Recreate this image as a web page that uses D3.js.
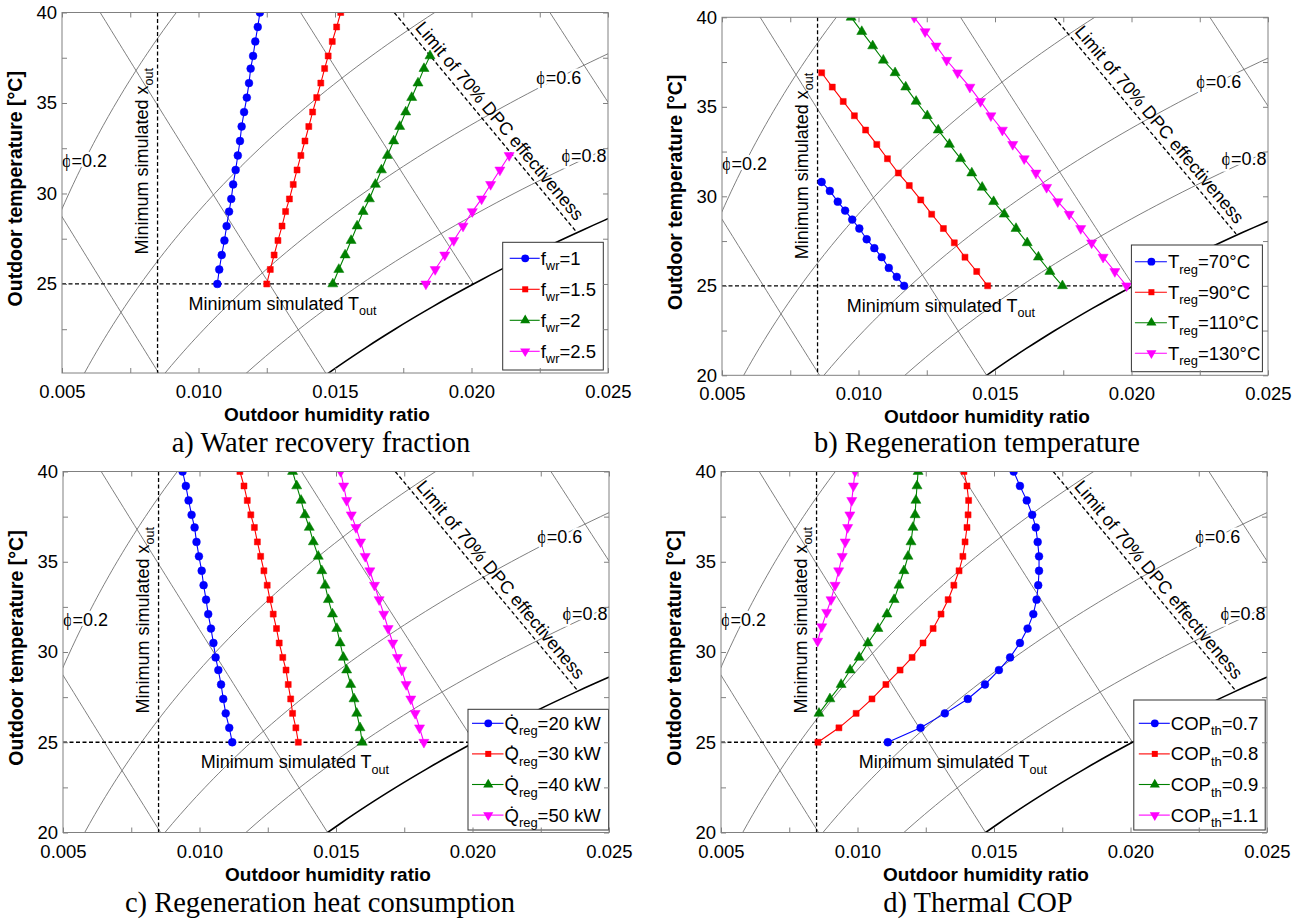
<!DOCTYPE html>
<html>
<head>
<meta charset="utf-8">
<script src="https://cdn.jsdelivr.net/npm/d3@7"></script>
<style>
  body { margin: 0; background: #fff; }
  svg text { font-family: "Liberation Sans", Arial, sans-serif; fill: #000; }
</style>
</head>
<body>
<script>
// ---- data ----
// temperature grid shared by most series (deg C)
var tGrid = [25.0, 25.8, 26.6, 27.4, 28.2, 29.0, 29.7, 30.5, 31.3, 32.1, 32.9, 33.7, 34.5, 35.3, 36.1, 36.9, 37.6, 38.4, 39.2, 40.0];

// a) water recovery fraction
var aX10 = [0.01069, 0.01076, 0.01085, 0.01095, 0.01103, 0.01112, 0.01120, 0.01127, 0.01136, 0.01144, 0.01152, 0.01158, 0.01167, 0.01177, 0.01185, 0.01191, 0.01200, 0.01208, 0.01217, 0.01225];
var aX15 = [0.01250, 0.01263, 0.01277, 0.01291, 0.01306, 0.01319, 0.01333, 0.01347, 0.01361, 0.01375, 0.01390, 0.01404, 0.01418, 0.01433, 0.01448, 0.01462, 0.01475, 0.01490, 0.01506, 0.01521];
var aX20 = [0.01492, 0.01514, 0.01537, 0.01559, 0.01581, 0.01603, 0.01626, 0.01648, 0.01670, 0.01692, 0.01715, 0.01737, 0.01759, 0.01781, 0.01804, 0.01826, 0.01848];
var aT20 = tGrid.slice(0, 17);
var aX25 = [0.01833, 0.01867, 0.01902, 0.01935, 0.01969, 0.02003, 0.02037, 0.02070, 0.02104, 0.02138];
var aT25 = tGrid.slice(0, 10);

// b) regeneration temperature
var bT70 = [25.0, 25.5, 26.0, 26.6, 27.1, 27.6, 28.2, 28.7, 29.2, 29.7, 30.3, 30.8];
var bX70 = [0.01167, 0.01140, 0.01111, 0.01085, 0.01058, 0.01030, 0.01003, 0.00977, 0.00951, 0.00924, 0.00895, 0.00865];
var bT90 = [25.0, 25.8, 26.6, 27.4, 28.2, 29.0, 29.8, 30.6, 31.3, 32.1, 32.9, 33.7, 34.5, 35.3, 36.1, 36.9];
var bX90 = [0.01473, 0.01433, 0.01390, 0.01351, 0.01311, 0.01268, 0.01228, 0.01186, 0.01146, 0.01106, 0.01067, 0.01026, 0.00985, 0.00944, 0.00904, 0.00865];
var bX110 = [0.01747, 0.01701, 0.01659, 0.01618, 0.01577, 0.01534, 0.01495, 0.01453, 0.01415, 0.01374, 0.01333, 0.01292, 0.01252, 0.01211, 0.01173, 0.01134, 0.01091, 0.01052, 0.01012, 0.00973];
var bX130 = [0.01982, 0.01939, 0.01896, 0.01854, 0.01814, 0.01772, 0.01730, 0.01689, 0.01650, 0.01607, 0.01565, 0.01527, 0.01485, 0.01447, 0.01408, 0.01363, 0.01323, 0.01284, 0.01244, 0.01204];

// c) regeneration heat consumption
var cX20 = [0.01120, 0.01109, 0.01096, 0.01087, 0.01079, 0.01069, 0.01059, 0.01051, 0.01042, 0.01032, 0.01024, 0.01015, 0.01008, 0.00998, 0.00989, 0.00982, 0.00971, 0.00960, 0.00950, 0.00938];
var cX30 = [0.01362, 0.01353, 0.01341, 0.01334, 0.01325, 0.01317, 0.01305, 0.01292, 0.01282, 0.01270, 0.01258, 0.01248, 0.01236, 0.01224, 0.01212, 0.01201, 0.01188, 0.01175, 0.01163, 0.01148];
var cX40 = [0.01596, 0.01588, 0.01576, 0.01566, 0.01554, 0.01539, 0.01527, 0.01515, 0.01503, 0.01487, 0.01472, 0.01460, 0.01448, 0.01435, 0.01417, 0.01402, 0.01386, 0.01372, 0.01356, 0.01341];
var cX50 = [0.01822, 0.01806, 0.01790, 0.01774, 0.01757, 0.01741, 0.01725, 0.01708, 0.01691, 0.01675, 0.01658, 0.01641, 0.01624, 0.01607, 0.01590, 0.01573, 0.01556, 0.01539, 0.01528, 0.01517];

// d) thermal COP
var dX07 = [0.01111, 0.01231, 0.01320, 0.01404, 0.01467, 0.01518, 0.01559, 0.01595, 0.01623, 0.01644, 0.01656, 0.01662, 0.01665, 0.01665, 0.01660, 0.01653, 0.01640, 0.01620, 0.01595, 0.01572];
var dX08 = [0.00855, 0.00932, 0.00995, 0.01053, 0.01104, 0.01156, 0.01200, 0.01240, 0.01277, 0.01306, 0.01332, 0.01353, 0.01372, 0.01386, 0.01394, 0.01401, 0.01405, 0.01407, 0.01401, 0.01390];
var dT09 = tGrid.slice(2);
var dX09 = [0.00859, 0.00899, 0.00940, 0.00973, 0.01006, 0.01038, 0.01075, 0.01108, 0.01134, 0.01152, 0.01170, 0.01185, 0.01196, 0.01203, 0.01211, 0.01214, 0.01218, 0.01222];
var dT11 = [30.6, 31.4, 32.2, 32.9, 33.7, 34.5, 35.3, 36.1, 36.9, 37.6, 38.4, 39.2, 40.0];
var dX11 = [0.00854, 0.00869, 0.00887, 0.00903, 0.00918, 0.00931, 0.00944, 0.00955, 0.00964, 0.00972, 0.00979, 0.00985, 0.00991];

// background / reference lines
var phiLevels = [0.2, 0.4, 0.6, 0.8];
var wetBulbLevels = [15, 20, 25, 30];
var phiLabelLevels = [0.2, 0.6, 0.8];
var phiLabelTemps = [31.8, 36.4, 32.1];
var dpcX = [0.01717, 0.02383], dpcT = [40, 27.9];
var xOutMin = 0.0085, tOutMin = 25;

// ticks
var xTicks = [0.005, 0.0075, 0.010, 0.0125, 0.015, 0.0175, 0.020, 0.0225, 0.025];
var yTicks = [20, 22.5, 25, 27.5, 30, 32.5, 35, 37.5, 40];

// ---- psychrometrics for the chart background ----
function psat(t) { return 0.61078 * Math.exp(17.27 * t / (t + 237.3)); }
function humRatio(phi, t) { var pv = phi * psat(t); return 0.622 * pv / (101.325 - pv); }
function wetBulbX(t, twb) {
  var xs = humRatio(1, twb);
  return ((2501 - 2.326 * twb) * xs - 1.006 * (t - twb)) / (2501 + 1.86 * t - 4.186 * twb);
}

var W = 1298, H = 920, PW = 546;
var svg = d3.select("body").append("svg").attr("width", W).attr("height", H);

var colors = { blue: "#0000ff", red: "#ff0000", green: "#008000", magenta: "#ff00ff" };

function mk(lbl, color, sym, xs, ts) { return { lbl: lbl, color: color, sym: sym, x: xs, t: ts }; }

var panels = [
  { id: "a", left: 62, top: 12.5, bottom: 373, yMin: 20.08, title: "a) Water recovery fraction", titleX: 321, titleY: 452,
    toutX: 0.00963, leg: { x: 502.7, y: 242.3, w: 100.6, h: 127.7, r0: 16, step: 31, lx: 7, tx: 38 },
    series: [mk(["f", "wr", "=1"], colors.blue, "o", aX10, tGrid),
             mk(["f", "wr", "=1.5"], colors.red, "s", aX15, tGrid),
             mk(["f", "wr", "=2"], colors.green, "^", aX20, aT20),
             mk(["f", "wr", "=2.5"], colors.magenta, "v", aX25, aT25)] },
  { id: "b", left: 722, top: 17.3, bottom: 375.3, yMin: 20, title: "b) Regeneration temperature", titleX: 977, titleY: 452,
    toutX: 0.00957, leg: { x: 1131.4, y: 245, w: 131, h: 126.7, r0: 16.7, step: 30.5, lx: 3.5, tx: 36.5 },
    series: [mk(["T", "reg", "=70°C"], colors.blue, "o", bX70, bT70),
             mk(["T", "reg", "=90°C"], colors.red, "s", bX90, bT90),
             mk(["T", "reg", "=110°C"], colors.green, "^", bX110, tGrid),
             mk(["T", "reg", "=130°C"], colors.magenta, "v", bX130, tGrid)] },
  { id: "c", left: 63, top: 471.5, bottom: 832.5, yMin: 20, title: "c) Regeneration heat consumption", titleX: 320, titleY: 912,
    toutX: 0.01005, leg: { x: 468, y: 709.3, w: 140.5, h: 120.7, r0: 14, step: 30.6, lx: 4, tx: 36.5 },
    series: [mk(["Q\u0307", "reg", "=20 kW"], colors.blue, "o", cX20, tGrid),
             mk(["Q\u0307", "reg", "=30 kW"], colors.red, "s", cX30, tGrid),
             mk(["Q\u0307", "reg", "=40 kW"], colors.green, "^", cX40, tGrid),
             mk(["Q\u0307", "reg", "=50 kW"], colors.magenta, "v", cX50, tGrid)] },
  { id: "d", left: 721, top: 471.5, bottom: 832.5, yMin: 20, title: "d) Thermal COP", titleX: 978, titleY: 912,
    toutX: 0.01005, leg: { x: 1133.8, y: 700, w: 131.4, h: 130, r0: 23.3, step: 30.6, lx: 5, tx: 37 },
    series: [mk(["COP", "th", "=0.7"], colors.blue, "o", dX07, tGrid),
             mk(["COP", "th", "=0.8"], colors.red, "s", dX08, tGrid),
             mk(["COP", "th", "=0.9"], colors.green, "^", dX09, dT09),
             mk(["COP", "th", "=1.1"], colors.magenta, "v", dX11, dT11)] }
];

function symbolPath(sym) {
  if (sym === "o") return d3.symbol().type(d3.symbolCircle).size(48)();
  if (sym === "s") return d3.symbol().type(d3.symbolSquare).size(36)();
  return d3.symbol().type(d3.symbolTriangle).size(44)();
}

// text with a subscript in the middle
function subText(sel, parts, fs) {
  var t = sel.append("text").attr("font-size", fs);
  t.append("tspan").text(parts[0]);
  t.append("tspan").attr("dy", fs * 0.3).attr("font-size", fs * 0.7).text(parts[1]);
  t.append("tspan").attr("dy", -fs * 0.3).text(parts[2]);
  return t;
}

panels.forEach(function (p) {
  var x = d3.scaleLinear().domain([0.005, 0.025]).range([p.left, p.left + PW]);
  var y = d3.scaleLinear().domain([p.yMin, 40]).range([p.bottom, p.top]);
  var g = svg.append("g");

  g.append("clipPath").attr("id", "clip-" + p.id)
    .append("rect").attr("x", p.left).attr("y", p.top).attr("width", PW).attr("height", p.bottom - p.top);
  var plot = g.append("g").attr("clip-path", "url(#clip-" + p.id + ")");

  var line = d3.line().x(function (d) { return x(d[0]); }).y(function (d) { return y(d[1]); });
  var tSample = d3.range(10, 46.01, 0.25);

  // relative humidity curves
  phiLevels.forEach(function (phi) {
    plot.append("path").datum(tSample.map(function (t) { return [humRatio(phi, t), t]; }))
      .attr("d", line).attr("fill", "none").attr("stroke", "#707070").attr("stroke-width", 0.9);
  });
  // wet bulb lines
  wetBulbLevels.forEach(function (twb) {
    plot.append("path").datum(tSample.filter(function (t) { return t >= twb; }).map(function (t) { return [wetBulbX(t, twb), t]; }))
      .attr("d", line).attr("fill", "none").attr("stroke", "#707070").attr("stroke-width", 0.9);
  });
  // saturation curve
  plot.append("path").datum(tSample.map(function (t) { return [humRatio(1, t), t]; }))
    .attr("d", line).attr("fill", "none").attr("stroke", "#000").attr("stroke-width", 1.6);

  // phi labels sitting on the curves
  phiLabelLevels.forEach(function (phi, i) {
    var tl = phiLabelTemps[i];
    var cx = Math.min(x(humRatio(phi, tl)), p.left + PW - 24);
    var lab = plot.append("text").attr("x", cx).attr("y", y(tl)).attr("text-anchor", "middle")
      .attr("dy", "0.35em").attr("font-size", 18)
      .attr("stroke", "#fff").attr("stroke-width", 5).attr("paint-order", "stroke");
    lab.append("tspan").attr("font-family", "Liberation Serif, serif").text("\u03d5");
    lab.append("tspan").text("=" + phi);
  });

  // dashed reference lines
  var dash = function (s) { return s.attr("stroke", "#000").attr("stroke-width", 1.3).attr("stroke-dasharray", "4,2.5"); };
  dash(plot.append("line").attr("x1", x(xOutMin)).attr("x2", x(xOutMin)).attr("y1", p.top).attr("y2", p.bottom));
  dash(plot.append("line").attr("x1", p.left).attr("x2", x(humRatio(1, tOutMin))).attr("y1", y(tOutMin)).attr("y2", y(tOutMin)));
  var p0 = [x(dpcX[0]), y(dpcT[0])], p1 = [x(dpcX[1]), y(dpcT[1])];
  dash(plot.append("line").attr("x1", p0[0]).attr("y1", p0[1]).attr("x2", p1[0]).attr("y2", p1[1]));

  // DPC label along its line
  var dx = p1[0] - p0[0], dy = p1[1] - p0[1], L = Math.sqrt(dx * dx + dy * dy);
  var ux = dx / L, uy = dy / L, ang = Math.atan2(dy, dx) * 180 / Math.PI;
  var cx = p0[0] + 0.53 * L * ux + 12 * uy, cy = p0[1] + 0.53 * L * uy - 12 * ux;
  g.append("text").attr("transform", "translate(" + cx + "," + cy + ") rotate(" + ang + ")")
    .attr("text-anchor", "middle").attr("dy", "0.35em").attr("font-size", 18)
    .text("Limit of 70% DPC effectiveness");

  // minimum x_out label (vertical)
  subText(g, ["Minimum simulated x", "out", ""], 18)
    .attr("transform", "translate(" + (x(xOutMin) - 10) + "," + (p.top + 242) + ") rotate(-90)");
  // minimum T_out label
  subText(g, ["Minimum simulated T", "out", ""], 18)
    .attr("x", x(p.toutX)).attr("y", y(tOutMin) + 26);

  // series
  p.series.forEach(function (s) {
    var pts = s.x.map(function (v, i) { return [v, s.t[i]]; });
    plot.append("path").datum(pts).attr("d", line).attr("fill", "none").attr("stroke", s.color).attr("stroke-width", 1.1);
    plot.selectAll(null).data(pts).enter().append("path")
      .attr("d", symbolPath(s.sym))
      .attr("transform", function (d) {
        return "translate(" + x(d[0]) + "," + y(d[1]) + ")" + (s.sym === "v" ? " rotate(180)" : "");
      })
      .attr("fill", s.color).attr("stroke", s.color).attr("stroke-width", 0.5);
  });

  // legend
  var lg = p.leg;
  var leg = g.append("g");
  leg.append("rect").attr("x", lg.x).attr("y", lg.y).attr("width", lg.w).attr("height", lg.h)
    .attr("fill", "#fff").attr("stroke", "#333").attr("stroke-width", 1);
  p.series.forEach(function (s, i) {
    var ry = lg.y + lg.r0 + i * lg.step;
    leg.append("line").attr("x1", lg.x + lg.lx).attr("x2", lg.x + lg.tx - 1).attr("y1", ry).attr("y2", ry)
      .attr("stroke", s.color).attr("stroke-width", 1.1);
    leg.append("path").attr("d", symbolPath(s.sym))
      .attr("transform", "translate(" + (lg.x + (lg.lx + lg.tx) / 2) + "," + ry + ")" + (s.sym === "v" ? " rotate(180)" : ""))
      .attr("fill", s.color);
    subText(leg, s.lbl, 18.5).attr("x", lg.x + lg.tx).attr("y", ry + 6.5);
  });

  // frame and ticks (inward on all sides)
  var isMajX = function (d) { return Math.abs(d * 200 - Math.round(d * 200)) < 1e-6; };
  var xa = g.append("g").attr("transform", "translate(0," + p.bottom + ")")
    .call(d3.axisBottom(x).tickValues(xTicks).tickSizeInner(-5).tickSizeOuter(0).tickPadding(12)
      .tickFormat(function (d) { return isMajX(d) ? d3.format(".3f")(d) : ""; }));
  var xt = g.append("g").attr("transform", "translate(0," + p.top + ")")
    .call(d3.axisTop(x).tickValues(xTicks).tickSizeInner(-5).tickSizeOuter(0).tickFormat(""));
  var yv = yTicks.filter(function (d) { return d >= p.yMin; });
  var ya = g.append("g").attr("transform", "translate(" + p.left + ",0)")
    .call(d3.axisLeft(y).tickValues(yv).tickSizeInner(-5).tickSizeOuter(0).tickPadding(5)
      .tickFormat(function (d) { return d % 5 === 0 ? d : ""; }));
  var yr = g.append("g").attr("transform", "translate(" + (p.left + PW) + ",0)")
    .call(d3.axisRight(y).tickValues(yv).tickSizeInner(-5).tickSizeOuter(0).tickFormat(""));
  [xa, xt, ya, yr].forEach(function (a) {
    a.select(".domain").remove();
    a.selectAll(".tick line").attr("stroke", "#808080");
    a.selectAll(".tick text").attr("font-size", 18.5).attr("font-family", "Liberation Sans, Arial, sans-serif").attr("fill", "#000");
  });
  g.append("rect").attr("x", p.left).attr("y", p.top).attr("width", PW).attr("height", p.bottom - p.top)
    .attr("fill", "none").attr("stroke", "#808080").attr("stroke-width", 1);

  // axis titles
  g.append("text").attr("x", p.left + PW / 2 - 8).attr("y", p.bottom + 48).attr("text-anchor", "middle")
    .attr("font-size", 19).attr("font-weight", "bold").text("Outdoor humidity ratio");
  g.append("text").attr("transform", "translate(" + (p.left - 40) + "," + ((p.top + p.bottom) / 2 - 4) + ") rotate(-90)")
    .attr("text-anchor", "middle").attr("font-size", 19.5).attr("font-weight", "bold").text("Outdoor temperature [°C]");

  // panel caption
  g.append("text").attr("x", p.titleX).attr("y", p.titleY).attr("text-anchor", "middle")
    .attr("font-size", 28.5).style("font-family", "'Liberation Serif', 'Times New Roman', serif")
    .text(p.title);
});
</script>
</body>
</html>
